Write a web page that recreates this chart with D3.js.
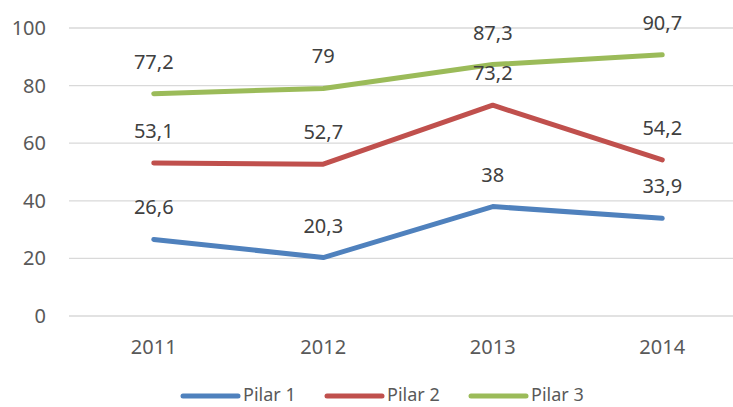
<!DOCTYPE html>
<html>
<head>
<meta charset="utf-8">
<script src="https://cdn.jsdelivr.net/npm/d3@7"></script>
<style>
  body { margin: 0; background: #fff; }
  svg { display: block; font-family: "Noto Sans", "Open Sans", sans-serif; }
</style>
</head>
<body>
<svg id="chart" width="733" height="407"></svg>
<script>
const years = ["2011", "2012", "2013", "2014"];
const pilar1 = [26.6, 20.3, 38, 33.9];
const pilar2 = [53.1, 52.7, 73.2, 54.2];
const pilar3 = [77.2, 79, 87.3, 90.7];
const yTicks = [0, 20, 40, 60, 80, 100];

const series = [
  { name: "Pilar 1", values: pilar1, color: "#4f81bd" },
  { name: "Pilar 2", values: pilar2, color: "#c0504d" },
  { name: "Pilar 3", values: pilar3, color: "#9bbb59" }
];

const svg = d3.select("#chart");
const textColor = "#595959";

// plot area runs a little past the right edge, like the source crop
const x = d3.scaleBand().domain(years).range([69, 747]);
const y = d3.scaleLinear().domain([0, 100]).range([316, 28]);
const cx = d => x(d) + x.bandwidth() / 2;

// gridlines
svg.append("g").selectAll("line").data(yTicks).enter().append("line")
  .attr("x1", 69).attr("x2", 733)
  .attr("y1", d => y(d)).attr("y2", d => y(d))
  .attr("stroke", "#d9d9d9").attr("stroke-width", 1.3);

// y axis labels
svg.append("g").selectAll("text").data(yTicks).enter().append("text")
  .attr("x", 46).attr("y", d => y(d)).attr("dy", "0.35em")
  .attr("text-anchor", "end").attr("font-size", 20).attr("fill", textColor)
  .text(d => d);

// x axis labels
svg.append("g").selectAll("text").data(years).enter().append("text")
  .attr("x", cx).attr("y", 354)
  .attr("text-anchor", "middle").attr("font-size", 20).attr("fill", textColor)
  .text(d => d);

const line = d3.line().x((d, i) => cx(years[i])).y(d => y(d));

series.forEach(s => {
  svg.append("path").datum(s.values)
    .attr("d", line)
    .attr("fill", "none").attr("stroke", s.color).attr("stroke-width", 5)
    .attr("stroke-linecap", "round").attr("stroke-linejoin", "round");
});

// data labels above points
series.forEach(s => {
  svg.append("g").selectAll("text").data(s.values).enter().append("text")
    .attr("x", (d, i) => cx(years[i])).attr("y", d => y(d) - 25)
    .attr("text-anchor", "middle").attr("font-size", 20).attr("fill", "#404040")
    .text(d => String(d).replace(".", ","));
});

// legend
const legend = svg.append("g").selectAll("g").data(series).enter().append("g")
  .attr("transform", (d, i) => `translate(${183 + i * 144},396)`);
legend.append("line")
  .attr("x1", 0).attr("x2", 55).attr("y1", 0).attr("y2", 0)
  .attr("stroke", d => d.color).attr("stroke-width", 5).attr("stroke-linecap", "round");
legend.append("text")
  .attr("x", 60).attr("y", 5)
  .attr("font-size", 18).attr("fill", textColor)
  .text(d => d.name);
</script>
</body>
</html>
